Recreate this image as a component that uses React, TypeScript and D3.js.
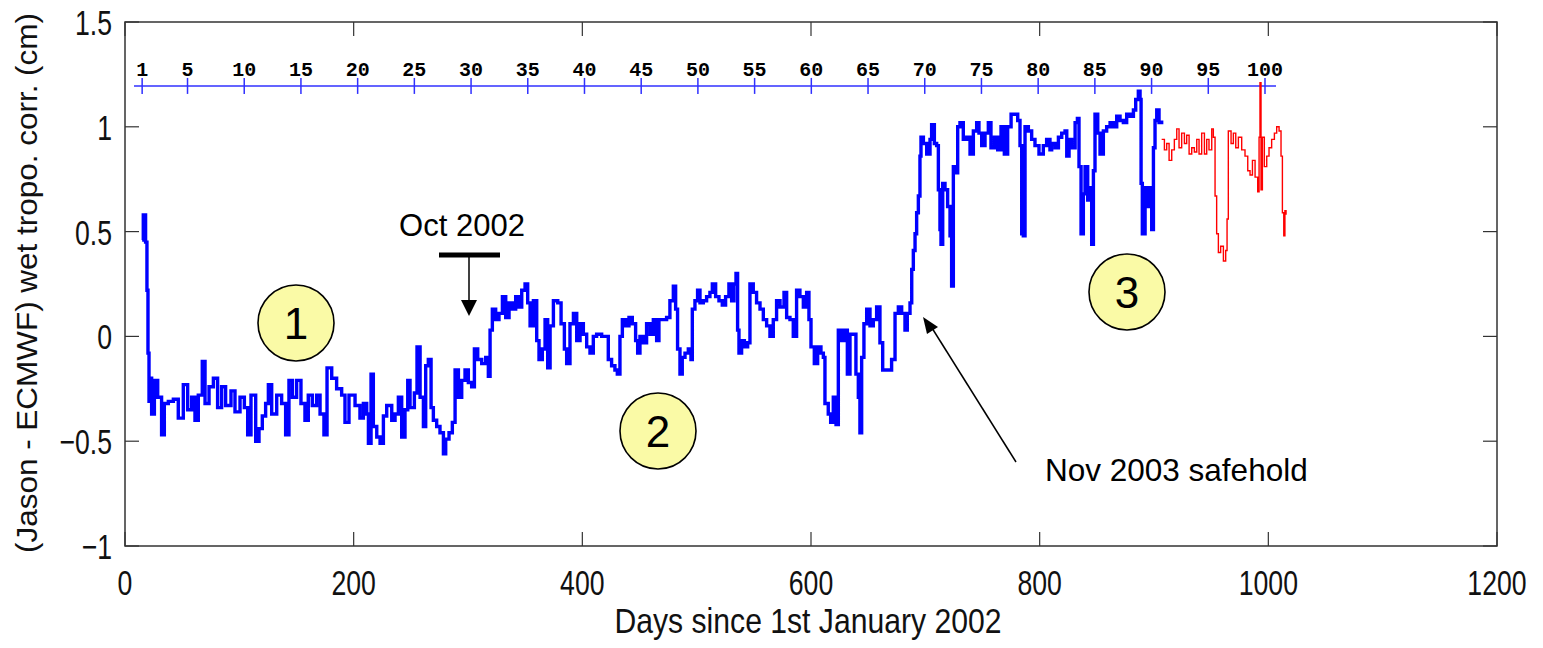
import React from "react";
import * as d3 from "d3";

// (day, cm)
const blueSeries: [number, number][] = [
  [15, 0.46], [16, 0.58], [18, 0.45], [19.2, 0.22], [20.1, -0.08], [21, -0.31], [22.2, -0.2], [23.3, -0.37],
  [25.7, -0.21], [28.6, -0.29], [32, -0.47], [34.4, -0.32], [37.9, -0.31], [42.3, -0.3], [46.6, -0.39],
  [51, -0.23], [54.8, -0.35], [58.3, -0.29], [61.2, -0.4], [64.1, -0.28], [67.6, -0.12], [70, -0.32],
  [73.5, -0.24], [77.3, -0.2], [81, -0.34], [84.5, -0.24], [88, -0.33], [92.7, -0.26], [96.2, -0.36],
  [100.6, -0.29], [104.4, -0.34], [107.3, -0.47], [110.2, -0.28], [114.3, -0.5], [117.2, -0.44],
  [120.1, -0.38], [123, -0.32], [125.4, -0.23], [128.3, -0.37], [132.7, -0.28], [137, -0.32],
  [140.5, -0.47], [143.4, -0.21], [146.4, -0.29], [150.1, -0.21], [153.9, -0.32], [157.4, -0.4],
  [160.3, -0.28], [163.8, -0.33], [167.6, -0.28], [170.6, -0.37], [174, -0.47], [176.7, -0.15],
  [180.8, -0.2], [185.1, -0.25], [189.5, -0.28], [192.4, -0.41], [195.9, -0.28], [201.2, -0.33],
  [205.5, -0.39], [208.5, -0.32], [211.4, -0.37], [212.9, -0.51], [215.2, -0.18], [217.2, -0.43],
  [220.2, -0.48], [223.1, -0.51], [226, -0.38], [228.9, -0.33], [233.3, -0.4], [236.2, -0.37],
  [239.1, -0.29], [242, -0.48], [244.9, -0.35], [247.3, -0.21], [249.3, -0.34], [253.1, -0.27],
  [255.4, -0.05], [258.1, -0.29], [261, -0.43], [263, -0.14], [265.3, -0.11], [267.7, -0.34],
  [269.7, -0.4], [272.6, -0.43], [275.5, -0.46], [278.5, -0.56], [280.5, -0.49], [283.4, -0.46],
  [286.3, -0.41], [288.7, -0.16], [291.6, -0.29], [294.5, -0.21], [297.4, -0.16], [300.3, -0.22],
  [303.2, -0.24], [305.6, -0.06], [308.5, -0.11], [312, -0.13], [315.5, -0.1], [317.8, -0.19],
  [319.3, 0.03], [321.3, 0.13], [324.2, 0.08], [327.1, 0.11], [330.1, 0.19], [333, 0.09],
  [335.9, 0.16], [338.8, 0.13], [341.7, 0.19], [344.6, 0.14], [347, 0.22], [349.9, 0.25],
  [352.2, 0.16], [354.3, 0.05], [357.2, 0.17], [360.1, -0.02], [362.1, -0.11], [365, -0.06],
  [367.4, 0.08], [369.7, -0.15], [371.8, 0.05], [374.7, 0.17], [378.5, 0.16], [381.4, 0.06],
  [384.3, -0.06], [386.3, -0.13], [389.2, 0.06], [392.2, 0.11], [395.1, -0.02], [398, 0.06],
  [400.9, 0.01], [403.8, -0.05], [406.7, -0.08], [409.6, 0.0], [412.5, 0.01], [416.9, 0.0],
  [420.4, 0.0], [422.7, -0.11], [425.6, -0.14], [428.5, -0.16], [430.6, -0.18], [432.9, 0.0],
  [435, 0.08], [437.9, 0.05], [440.8, 0.09], [443.7, 0.06], [446.6, -0.02], [448.4, -0.08],
  [450.4, 0.0], [453.3, -0.03], [456.2, 0.06], [459.2, 0.01], [462.1, 0.08], [465, -0.02],
  [467, 0.08], [470.8, 0.08], [473.7, 0.09], [476.6, 0.17], [479.6, 0.24], [481.6, 0.13],
  [483.3, -0.06], [485.4, -0.18], [487.4, -0.1], [489.8, -0.08], [492.7, -0.06], [495, -0.11],
  [496.2, 0.13], [498.5, 0.17], [500.8, 0.22], [502.9, 0.16], [505.8, 0.17], [508.7, 0.19],
  [511.6, 0.21], [513.7, 0.25], [516.6, 0.19], [519.5, 0.17], [522.4, 0.15], [525.3, 0.19],
  [528.2, 0.25], [530.6, 0.17], [532.6, 0.25], [534.4, 0.3], [535.8, 0.03], [537, -0.08],
  [539.3, -0.02], [541.7, -0.05], [544.6, -0.03], [546.6, 0.25], [549.5, 0.21], [552.4, 0.16],
  [555.4, 0.13], [558.3, 0.08], [561.2, 0.05], [564.1, 0.0], [567, 0.08], [569.9, 0.17],
  [572.9, 0.14], [576.4, 0.21], [578.7, 0.09], [581.6, 0.08], [584.5, 0.0], [587.4, 0.22],
  [590.3, 0.19], [593.3, 0.14], [596.2, 0.21], [598.2, 0.08], [600, -0.05], [602.9, -0.13],
  [605.8, -0.05], [608.7, -0.08], [610.8, -0.1], [612.2, -0.32], [615.1, -0.37], [617.2, -0.41],
  [619.5, -0.29], [621.9, -0.42], [623.9, 0.03], [626.8, -0.02], [629.7, 0.03], [631.8, -0.18],
  [634.1, 0.01], [637, 0.01], [639.3, -0.18], [641.4, -0.29], [642.8, -0.46], [644.3, -0.1],
  [646.3, 0.06], [648.7, 0.13], [651.6, 0.05], [654.5, 0.08], [657.4, 0.14], [660.3, -0.03],
  [662.7, -0.16], [666.2, -0.16], [670.5, -0.11], [673.5, 0.11], [676.4, 0.14], [679.3, 0.11],
  [682.2, 0.03], [684.2, 0.11], [686.6, 0.16], [688.1, 0.32], [689.5, 0.41], [691, 0.49],
  [692.4, 0.59], [693.9, 0.67], [695.3, 0.86], [696.2, 0.95], [698.3, 0.92], [701.2, 0.87],
  [704.1, 0.94], [705.5, 1.01], [707.9, 0.92], [709.9, 0.91], [711.4, 0.7], [712.8, 0.51],
  [713.7, 0.44], [715.2, 0.73], [717.2, 0.7], [719.5, 0.62], [721.6, 0.48], [723, 0.24],
  [724.5, 0.81], [726.5, 0.78], [728.3, 1.0], [730.3, 1.02], [733.2, 0.94], [736.2, 0.95],
  [739.1, 0.87], [742, 0.98], [744.9, 1.02], [746.9, 0.97], [749.3, 0.91], [752.2, 0.97],
  [755.1, 1.02], [757.4, 0.9], [760.4, 0.95], [763.3, 0.89], [766.2, 1.0], [769.1, 0.87],
  [772, 1.0], [775, 1.06], [777.9, 1.06], [780.8, 1.03], [782.8, 0.91], [784.3, 0.49],
  [785.7, 0.48], [787.2, 1.0], [790.1, 0.98], [793, 0.94], [795.9, 0.91], [799.4, 0.87],
  [803.2, 0.91], [806.1, 0.94], [809, 0.89], [810.5, 0.92], [813.5, 0.9], [816.4, 0.95],
  [819.3, 0.97], [822.2, 0.98], [823.7, 0.86], [825.7, 0.94], [828, 0.9], [831, 1.02],
  [833, 1.04], [834.4, 0.81], [836.2, 0.49], [838.2, 0.68], [839.7, 0.81], [842, 0.65],
  [844.1, 0.71], [845.5, 0.44], [847, 0.79], [848.4, 1.06], [850.8, 0.97], [852.8, 0.87],
  [855.7, 0.98], [858.6, 1.0], [861.6, 1.02], [864.5, 1.0], [867.4, 1.05], [870.3, 1.03],
  [873.2, 1.02], [876.1, 1.06], [879.1, 1.05], [882, 1.08], [884, 1.13], [886.3, 1.17],
  [887.8, 1.13], [888.7, 0.73], [889.8, 0.49], [892.2, 0.71], [894.5, 0.62], [896.5, 0.71],
  [898, 0.51], [899.5, 0.9], [900.9, 1.03], [902.4, 1.08], [904.4, 1.02], [906.7, 1.03],
];

// (day, cm)
const redSeries: [number, number][] = [
  [906.7, 0.94], [909.1, 0.89], [911.1, 0.92], [913.2, 0.84], [915.5, 0.89], [917.8, 0.94],
  [919.9, 0.99], [921.9, 0.9], [924.2, 0.97], [926.6, 0.92], [928.6, 0.96], [930.7, 0.87],
  [933, 0.9], [935.3, 0.88], [937.4, 0.94], [939.4, 0.87], [941.7, 0.97], [944.1, 0.87],
  [946.1, 0.94], [948.1, 0.89], [950.5, 0.99], [951.9, 0.95], [953.4, 0.67], [954.8, 0.49],
  [956.3, 0.4], [958.3, 0.43], [960.7, 0.36], [962.7, 0.41], [963.9, 0.56], [965, 0.98],
  [967.4, 0.92], [969.4, 0.97], [971.5, 0.9], [973.8, 0.95], [976.7, 0.89], [979.6, 0.86],
  [982, 0.79], [984, 0.77], [986.1, 0.84], [988.4, 0.76], [990.7, 0.69], [991.9, 0.95],
  [992.7, 1.21], [993.6, 0.7], [994.8, 0.95], [996.5, 0.81], [998.6, 0.86], [1000.6, 0.9],
  [1002.9, 0.94], [1005.3, 0.97], [1007.3, 1.0], [1009.4, 0.98], [1011.1, 0.86], [1012.3, 0.59],
  [1013.5, 0.48], [1014.5, 0.6], [1015.5, 0.58],
];

const xTicks = [0, 200, 400, 600, 800, 1000, 1200];
const yTicks = [-1, -0.5, 0, 0.5, 1, 1.5];
const cycleTicks = [1, 5, 10, 15, 20, 25, 30, 35, 40, 45, 50, 55, 60, 65, 70, 75, 80, 85, 90, 95, 100];
const cycleStartDay = 15;
const cycleLength = 9.92;
const cycleAxisLevel = 1.195;

const W = 1543;
const H = 648;
const plot = { left: 125, right: 1497, top: 22, bottom: 546 };
const sans = "'Liberation Sans', Arial, sans-serif";
const squeeze = 0.74; // the original axis font is a condensed face

const App = () => {
  const x = d3.scaleLinear().domain([0, 1200]).range([plot.left, plot.right]);
  const y = d3.scaleLinear().domain([-1, 1.5]).range([plot.bottom, plot.top]);
  const line = d3
    .line<[number, number]>()
    .x((d) => x(d[0]))
    .y((d) => y(d[1]))
    .curve(d3.curveStepAfter);

  const cycleDay = (c: number) => cycleStartDay + (c - 1) * cycleLength;
  const cy = y(cycleAxisLevel);
  const fmt = (v: number) => (v < 0 ? "\u2212" + Math.abs(v) : String(v));

  return (
    <svg
      width={W}
      height={H}
      style={{ position: "absolute", left: 0, top: 0, background: "#fff" }}
    >
      {/* frame */}
      <rect
        x={plot.left}
        y={plot.top}
        width={plot.right - plot.left}
        height={plot.bottom - plot.top}
        fill="none"
        stroke="#333"
        strokeWidth={1.5}
      />
      {xTicks.map((t) => (
        <g key={"x" + t}>
          <line x1={x(t)} x2={x(t)} y1={plot.bottom} y2={plot.bottom - 14} stroke="#333" strokeWidth={1.2} />
          <line x1={x(t)} x2={x(t)} y1={plot.top} y2={plot.top + 14} stroke="#333" strokeWidth={1.2} />
          <text
            transform={`translate(${x(t)},595) scale(${squeeze},1)`}
            textAnchor="middle"
            fontFamily={sans}
            fontSize={36}
            fill="#111"
          >
            {t}
          </text>
        </g>
      ))}
      {yTicks.map((t) => (
        <g key={"y" + t}>
          <line x1={plot.left} x2={plot.left + 14} y1={y(t)} y2={y(t)} stroke="#333" strokeWidth={1.2} />
          <line x1={plot.right} x2={plot.right - 14} y1={y(t)} y2={y(t)} stroke="#333" strokeWidth={1.2} />
          <text
            transform={`translate(112,${y(t) + 13}) scale(${squeeze},1)`}
            textAnchor="end"
            fontFamily={sans}
            fontSize={36}
            fill="#111"
          >
            {fmt(t)}
          </text>
        </g>
      ))}
      <text
        x={808}
        y={633}
        textAnchor="middle"
        fontFamily={sans}
        fontSize={35}
        fill="#111"
        textLength={387}
        lengthAdjust="spacingAndGlyphs"
      >
        Days since 1st January 2002
      </text>
      <text
        transform={`translate(37,283) rotate(-90)`}
        textAnchor="middle"
        fontFamily={sans}
        fontSize={30}
        fill="#111"
        textLength={540}
        lengthAdjust="spacingAndGlyphs"
      >
        (Jason - ECMWF) wet tropo. corr. (cm)
      </text>

      {/* cycle axis */}
      <line x1={134} x2={1276} y1={cy} y2={cy} stroke="#3030ff" strokeWidth={1.5} />
      {cycleTicks.map((c) => (
        <g key={"c" + c}>
          <line x1={x(cycleDay(c))} x2={x(cycleDay(c))} y1={cy - 8} y2={cy + 8} stroke="#3030ff" strokeWidth={1.5} />
          <text
            x={x(cycleDay(c))}
            y={cy - 10}
            textAnchor="middle"
            fontFamily="'Liberation Mono', 'DejaVu Sans Mono', monospace"
            fontWeight="bold"
            fontSize={20}
            fill="#000"
          >
            {c}
          </text>
        </g>
      ))}

      {/* series */}
      <path d={line(blueSeries) ?? ""} fill="none" stroke="#0000ff" strokeWidth={3.4} />
      <path d={line(redSeries) ?? ""} fill="none" stroke="#ff0000" strokeWidth={1.4} />

      {/* Oct 2002 marker */}
      <text x={462} y={236} textAnchor="middle" fontFamily={sans} fontSize={31} fill="#000">
        Oct 2002
      </text>
      <line x1={439} x2={500} y1={255} y2={255} stroke="#000" strokeWidth={5} />
      <line x1={469} x2={469} y1={255} y2={302} stroke="#000" strokeWidth={1.5} />
      <polygon points="461,300 477,300 469,316" fill="#000" />

      {/* safehold arrow */}
      <line x1={1016} x2={932} y1={462} y2={328} stroke="#000" strokeWidth={1.5} />
      <polygon points="923,317 938,327 927,334" fill="#000" />
      <text x={1045} y={481} fontFamily={sans} fontSize={31.5} fill="#000">
        Nov 2003 safehold
      </text>

      {/* phase markers */}
      {[
        { n: "1", cx: 296, cy: 323 },
        { n: "2", cx: 658, cy: 431 },
        { n: "3", cx: 1127, cy: 292 },
      ].map((m) => (
        <g key={m.n}>
          <circle cx={m.cx} cy={m.cy} r={38} fill="#fafaa6" stroke="#000" strokeWidth={1.6} />
          <text x={m.cx} y={m.cy + 16} textAnchor="middle" fontFamily={sans} fontSize={44} fill="#000">
            {m.n}
          </text>
        </g>
      ))}
    </svg>
  );
};

export default App;
